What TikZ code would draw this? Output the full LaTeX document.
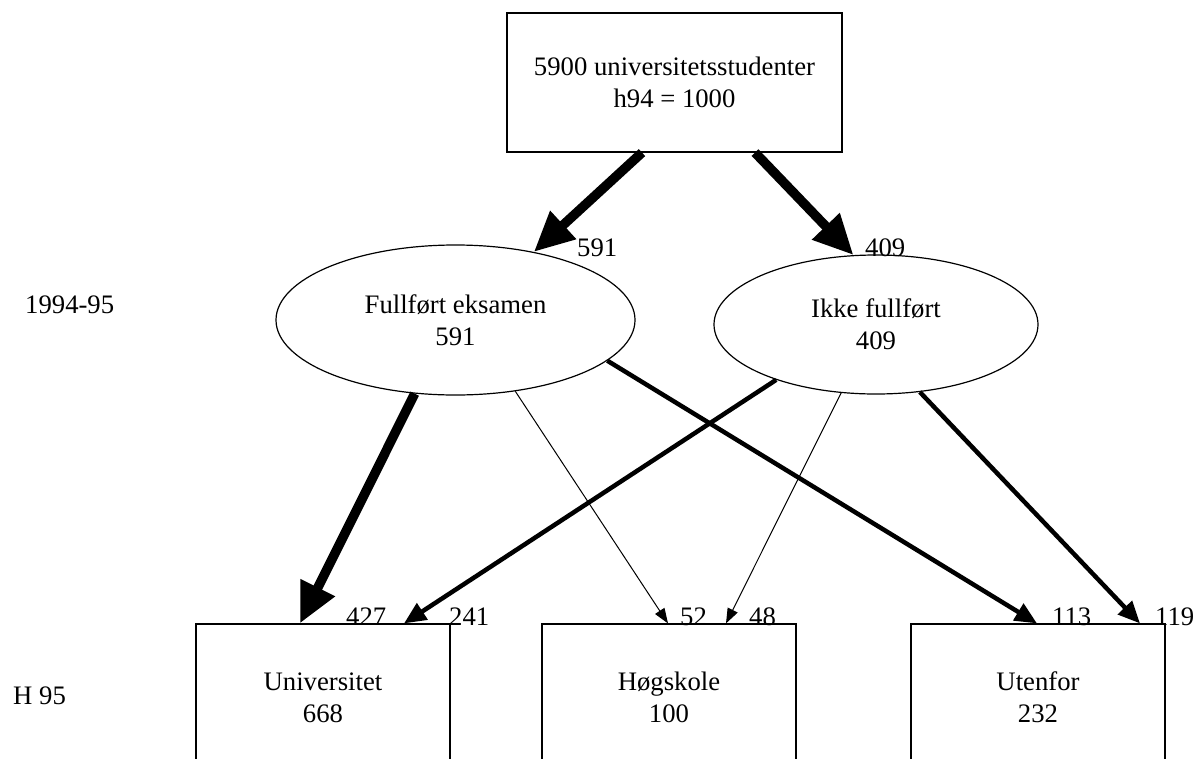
\documentclass[tikz,border=0pt]{standalone}
\usepackage{fontspec}
\setmainfont{Liberation Serif}
\usetikzlibrary{arrows.meta,shapes.geometric,calc}
\begin{document}
\begin{tikzpicture}[x=1pt,y=-1pt,
  every node/.style={font=\fontsize{26.7}{32}\selectfont},
  box/.style={draw,line width=1.2pt,rectangle,inner sep=0pt,align=center},
  oval/.style={draw,line width=1.2pt,ellipse,inner sep=0pt,align=center},
  lbl/.style={anchor=base west,inner sep=0pt},
  flowheavy/.style={line width=9.5pt,-{Triangle[length=40pt,width=36pt]}},
  flowmid/.style={line width=4.5pt,-{Triangle[length=22pt,width=19pt]}},
  flowlight/.style={line width=1pt,-{Triangle[length=15pt,width=11pt]}}
]
\clip (0,0) rectangle (1194,758);

\node[box,minimum width=335pt,minimum height=139pt] (top) at (674.5,82.5) {5900 universitetsstudenter\\h94 = 1000};
\node[oval,minimum width=359pt,minimum height=150pt] (e1) at (455.5,320) {Fullført eksamen\\591};
\node[oval,minimum width=324pt,minimum height=139pt] (e2) at (876,324.5) {Ikke fullført\\409};
\node[box,minimum width=254pt,minimum height=147pt] (u) at (323,697.5) {Universitet\\668};
\node[box,minimum width=254pt,minimum height=147pt] (h) at (669,697.5) {Høgskole\\100};
\node[box,minimum width=254pt,minimum height=147pt] (o) at (1038,697.5) {Utenfor\\232};

\node[lbl] (yr1) at (25,313) {1994-95};
\node[lbl] (yr2) at (13,704) {H 95};

\draw[flowheavy] ([xshift=-32.5pt]top.south) -- (e1.41.3);
\draw[flowheavy] ([xshift=80.5pt]top.south) -- (e2.108.5);

\draw[flowheavy] (e1.241) -- ([xshift=-23pt]u.north);
\draw[flowlight] (e1.310) -- ([xshift=-1pt]h.north);
\draw[flowmid] (e1.345) -- ([xshift=-1pt]o.north);
\draw[flowmid] (e2.209.3) -- ([xshift=81pt]u.north);
\draw[flowlight] (e2.243.7) -- ([xshift=57pt]h.north);
\draw[flowmid] (e2.303.9) -- ([xshift=102pt]o.north);

\node[lbl] (l591) at (577,256) {591};
\node[lbl] (l409) at (865,256) {409};
\node[lbl] (l427) at (346,625) {427};
\node[lbl] (l241) at (449,625) {241};
\node[lbl] (l52) at (680,625) {52};
\node[lbl] (l48) at (749,625) {48};
\node[lbl] (l113) at (1052,625) {113};
\node[lbl] (l119) at (1155,625) {119};
\end{tikzpicture}
\end{document}
